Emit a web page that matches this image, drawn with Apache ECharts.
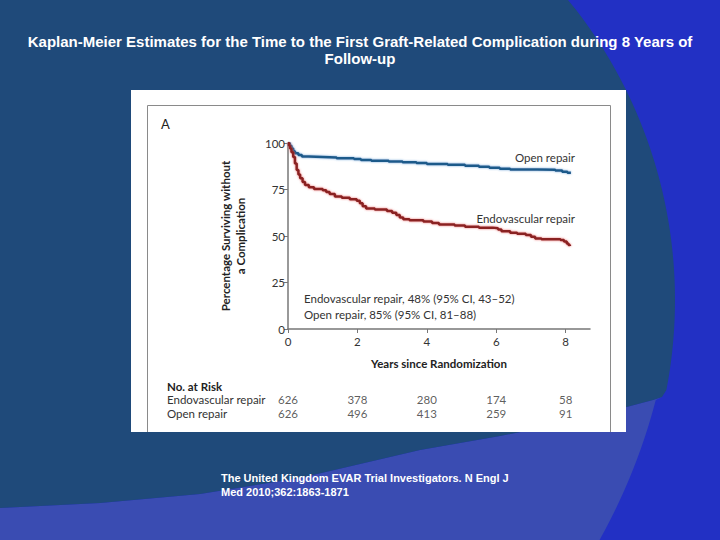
<!DOCTYPE html>
<html><head><meta charset="utf-8">
<script src="https://cdn.jsdelivr.net/npm/echarts@6/dist/echarts.min.js"></script>
<style>html,body{margin:0;padding:0;}#c{width:720px;height:540px;}</style>
</head><body><div id="c"></div>
<script>
// ---- data ----
var titleLines = ['Kaplan-Meier Estimates for the Time to the First Graft-Related Complication during 8 Years of', 'Follow-up'];
var citation = ['The United Kingdom EVAR Trial Investigators. N Engl J', 'Med 2010;362:1863-1871'];
var xTicks = [0, 2, 4, 6, 8];
var yTicks = [0, 25, 50, 75, 100];
var openT = [0,0.05,0.1,0.15,0.2,0.3,0.4,0.6,1.0,1.4,1.9,2.1,2.4,2.9,3.3,3.7,4.0,4.6,5.1,5.5,5.8,6.1,6.4,7.2,7.7,7.9,8.05,8.15];
var openS = [100,98.5,97,95.5,94.5,93.5,92.8,92.5,92.2,91.8,91.4,90.9,90.5,90.0,89.6,89.2,88.7,88.3,87.8,87.2,86.7,86.2,85.8,85.6,85.2,84.6,84.0,83.7];
var endoT = [0,0.03,0.06,0.1,0.15,0.2,0.25,0.3,0.35,0.42,0.49,0.6,0.75,1.0,1.1,1.2,1.35,1.55,1.78,1.98,2.07,2.15,2.25,2.5,2.85,3.0,3.12,3.22,3.32,3.5,3.9,4.15,4.35,4.8,5.1,5.5,5.9,6.05,6.15,6.4,6.6,6.85,7.0,7.12,7.3,7.85,7.95,8.03,8.08,8.12];
var endoS = [100,98.5,97,95,92.5,89,85.5,83,81,79,77.4,76.2,75.3,74.6,73.6,72.6,71.3,70.6,69.8,68.9,67.6,66,64.8,64.2,63.4,62.5,61.3,60,59,58.5,57.8,57,56.2,55.6,55,54.5,54.2,53.5,52.5,51.8,51.2,50.6,49.6,48.6,48.2,47.8,47,46,45.2,44.6];
var groups = ['Endovascular repair', 'Open repair'];
var riskYears = [0, 2, 4, 6, 8];
var riskEndo = [626, 378, 280, 174, 58];
var riskOpen = [626, 496, 413, 259, 91];
var ciText = ['Endovascular repair, 48% (95% CI, 43\u201352)', 'Open repair, 85% (95% CI, 81\u201388)'];

function pairs(t, s) { return t.map(function (v, i) { return [v, s[i]]; }); }
var riskData = [];
riskYears.forEach(function (y, i) {
  riskData.push([y, groups[0], riskEndo[i]]);
  riskData.push([y, groups[1], riskOpen[i]]);
});

// ---- slide background decoration ----
var bandEdge = [[662, 397], [653, 400], [570, 422], [500, 436], [420, 450], [300, 478], [200, 494], [100, 503], [0, 508]];
var darkPoly = [[0, 0], [568, 0]];
var lightPoly = [];
(function () {
  var cx = 200, cy = 300, r = 475, y;
  for (y = 10; y <= 397; y += 10) darkPoly.push([cx + Math.sqrt(r * r - (y - cy) * (y - cy)), y]);
  bandEdge.forEach(function (p) { darkPoly.push(p); });
  // lighter band: below the band edge, inside a second large circle
  bandEdge.slice().reverse().forEach(function (p) { lightPoly.push(p); });
  var lx = 80, ly = 250, lr = 595;
  for (y = 400; y <= 540; y += 10) lightPoly.push([lx + Math.sqrt(lr * lr - (y - ly) * (y - ly)), y]);
  lightPoly.push([0, 540]);
})();

var F = 'Lato, "Noto Sans", sans-serif';
var chart = echarts.init(document.getElementById('c'), null, { renderer: 'svg' });
chart.setOption({
  backgroundColor: '#2230c4',
  animation: false,
  title: {
    text: titleLines.join('\n'), left: 'center', top: 28,
    textStyle: { color: '#fff', fontFamily: 'Liberation Sans, Arial', fontWeight: 'bold', fontSize: 15, lineHeight: 17 }
  },
  graphic: [
    { type: 'polygon', shape: { points: lightPoly }, style: { fill: '#3a4cb2' }, z: -30, silent: true },
    { type: 'polygon', shape: { points: darkPoly }, style: { fill: '#1f4a7a' }, z: -20, silent: true },
    { type: 'rect', shape: { x: 131, y: 90, width: 495, height: 342 }, style: { fill: '#ffffff' }, z: -10, silent: true },
    { type: 'polyline', shape: { points: [[147.5, 432], [147.5, 105.5], [610.5, 105.5], [610.5, 432]] }, style: { fill: 'none', stroke: '#8a8a8a', lineWidth: 1 }, z: -9, silent: true },
    { type: 'text', left: 161, top: 117, style: { text: 'A', fill: '#222', font: '13px ' + F } },
    { type: 'text', x: 575, y: 157, style: { text: 'Open repair', fill: '#333', font: '11.5px ' + F, align: 'right', verticalAlign: 'middle' } },
    { type: 'text', x: 575, y: 218, style: { text: 'Endovascular repair', fill: '#333', font: '11.5px ' + F, align: 'right', verticalAlign: 'middle' } },
    { type: 'text', x: 304, y: 298, style: { text: ciText[0], fill: '#333', font: '11.5px ' + F, verticalAlign: 'middle' } },
    { type: 'text', x: 304, y: 314, style: { text: ciText[1], fill: '#333', font: '11.5px ' + F, verticalAlign: 'middle' } },
    { type: 'text', x: 167, y: 386, style: { text: 'No. at Risk', fill: '#222', font: 'bold 11.5px ' + F, verticalAlign: 'middle' } },
    { type: 'text', x: 221, y: 471, style: { text: citation.join('\n'), fill: '#fff', font: 'bold 11px "Liberation Sans Narrow", "Liberation Sans", Arial', lineHeight: 14 } }
  ],
  grid: [
    { left: 288, top: 143, width: 302, height: 186 },
    { left: 288, top: 393, width: 302, height: 27 }
  ],
  xAxis: [
    {
      type: 'value', min: 0, max: 8.7, interval: 2, gridIndex: 0,
      name: 'Years since Randomization', nameLocation: 'middle', nameGap: 28,
      nameTextStyle: { color: '#222', fontFamily: F, fontWeight: 'bold', fontSize: 11.5 },
      axisLine: { lineStyle: { color: '#777', width: 1.5 } },
      axisTick: { show: true, length: 4, customValues: xTicks, lineStyle: { color: '#777' } },
      axisLabel: { color: '#333', fontFamily: F, fontSize: 11.5, margin: 6, customValues: xTicks },
      splitLine: { show: false }
    },
    { type: 'value', min: 0, max: 8.7, gridIndex: 1, show: false }
  ],
  yAxis: [
    {
      type: 'value', min: 0, max: 100, interval: 25, gridIndex: 0,
      name: 'Percentage Surviving without\na Complication', nameLocation: 'middle', nameGap: 40, nameRotate: 90,
      nameTextStyle: { color: '#222', fontFamily: F, fontWeight: 'bold', fontSize: 11.5, lineHeight: 15 },
      axisLine: { show: true, lineStyle: { color: '#777', width: 1.5 } },
      axisTick: { show: true, length: 4, customValues: yTicks, lineStyle: { color: '#777' } },
      axisLabel: { color: '#333', fontFamily: F, fontSize: 11.5, margin: 3, customValues: yTicks },
      splitLine: { show: false }
    },
    {
      type: 'category', data: groups, inverse: true, gridIndex: 1,
      axisLine: { show: false }, axisTick: { show: false },
      axisLabel: { interval: 0, align: 'left', margin: 121, color: '#333', fontFamily: F, fontSize: 11.5 }
    }
  ],
  series: [
    {
      type: 'line', name: 'Open repair', step: 'end', showSymbol: false, xAxisIndex: 0, yAxisIndex: 0,
      data: pairs(openT, openS),
      lineStyle: { color: '#1f5a8a', width: 2.5, shadowColor: 'rgba(90,150,210,0.8)', shadowBlur: 2 }
    },
    {
      type: 'line', name: 'Endovascular repair', step: 'end', showSymbol: false, xAxisIndex: 0, yAxisIndex: 0,
      data: pairs(endoT, endoS),
      lineStyle: { color: '#8a2222', width: 2.5, shadowColor: 'rgba(230,90,90,0.8)', shadowBlur: 2 }
    },
    {
      type: 'scatter', xAxisIndex: 1, yAxisIndex: 1, symbolSize: 0, data: riskData,
      encode: { x: 0, y: 1 },
      label: { show: true, position: 'inside', color: '#333', fontFamily: F, fontSize: 11.5,
        formatter: function (p) { return String(p.value[2]); } }
    }
  ]
});
</script></body></html>
